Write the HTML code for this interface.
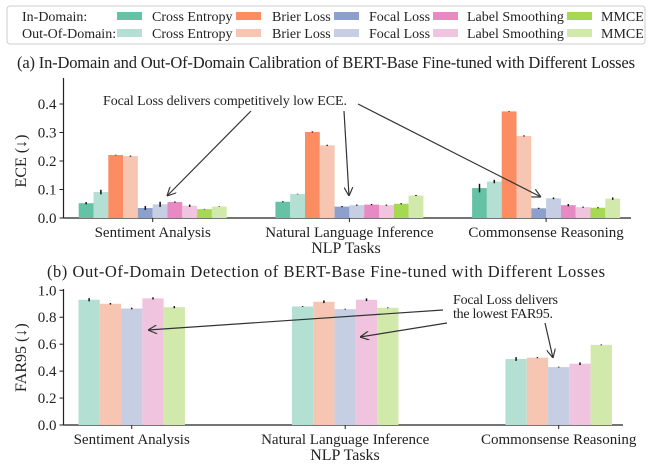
<!DOCTYPE html>
<html><head><meta charset="utf-8">
<style>
body{margin:0;background:#fff;}
svg, svg text{display:block;font-family:"Liberation Serif","DejaVu Serif",serif;}
</style></head>
<body>
<svg id="chart" width="652" height="468" viewBox="0 0 652 468" xmlns="http://www.w3.org/2000/svg" font-family="Liberation Serif, DejaVu Serif, serif">
<defs><marker id="ah" viewBox="0 0 10 10" refX="10" refY="5" markerWidth="9" markerHeight="9" orient="auto" markerUnits="userSpaceOnUse"><path d="M0,0 L10,5 L0,10" fill="none" stroke="#333" stroke-width="1.3"/></marker></defs>
<g>
<rect x="7" y="6" width="638" height="38" rx="3" fill="#fff" stroke="#ccc"/>
<text x="22" y="21" font-size="14" fill="#222">In-Domain:</text>
<text x="22" y="38" font-size="14" fill="#222">Out-Of-Domain:</text>
</g>
<text x="326" y="68" font-size="16.5" text-anchor="middle" fill="#222" textLength="618">(a) In-Domain and Out-Of-Domain Calibration of BERT-Base Fine-tuned with Different Losses</text>
<text x="326" y="277" font-size="16.5" text-anchor="middle" fill="#222" textLength="558">(b) Out-Of-Domain Detection of BERT-Base Fine-tuned with Different Losses</text>
<g id="pa"></g>
<g id="pb"></g>
<text x="103" y="105" font-size="14" fill="#222" textLength="244">Focal Loss delivers competitively low ECE.</text>
<line x1="251" y1="111" x2="167" y2="196" stroke="#333" stroke-width="1.2" marker-end="url(#ah)"/>
<line x1="344" y1="111" x2="349" y2="196" stroke="#333" stroke-width="1.2" marker-end="url(#ah)"/>
<line x1="358" y1="104" x2="541" y2="197" stroke="#333" stroke-width="1.2" marker-end="url(#ah)"/>
<text font-size="14" fill="#222"><tspan x="453" y="304" textLength="105">Focal Loss delivers</tspan><tspan x="453" y="318" textLength="100">the lowest FAR95.</tspan></text>
<line x1="443" y1="310" x2="148" y2="330" stroke="#333" stroke-width="1.2" marker-end="url(#ah)"/>
<line x1="447" y1="323" x2="360" y2="337" stroke="#333" stroke-width="1.2" marker-end="url(#ah)"/>
<line x1="545" y1="323" x2="553" y2="358" stroke="#333" stroke-width="1.2" marker-end="url(#ah)"/>
</svg>
<script>
const tasks=["Sentiment Analysis","Natural Language Inference","Commonsense Reasoning"];
const losses=["Cross Entropy","Brier Loss","Focal Loss","Label Smoothing","MMCE"];
const colorsIn=["#66c2a5","#fc8d62","#8da0cb","#e78ac3","#a6d854"];
const colorsOut=["#b3e0d2","#f7c6b2","#c6cee3","#f0c4de","#d2e9ac"];
const eceIn=[[0.052,0.221,0.035,0.056,0.031],[0.057,0.302,0.040,0.047,0.050],[0.105,0.374,0.034,0.045,0.036]];
const eceOut=[[0.091,0.217,0.048,0.043,0.040],[0.084,0.255,0.045,0.045,0.079],[0.128,0.288,0.069,0.038,0.068]];
const eceErrIn=[[0.004,0.001,0.007,0.002,0.001],[0.002,0.002,0.002,0.002,0.002],[0.015,0.001,0.002,0.004,0.002]];
const eceErrOut=[[0.008,0.002,0.009,0.004,0.001],[0.001,0.002,0.002,0.002,0.002],[0.006,0.002,0.003,0.002,0.004]];
const far=[[0.93,0.90,0.865,0.94,0.875],[0.88,0.915,0.86,0.93,0.87],[0.49,0.50,0.43,0.455,0.595]];
const farErr=[[0.012,0.006,0.006,0.008,0.008],[0.003,0.01,0.003,0.01,0.003],[0.014,0.004,0.003,0.01,0.003]];
const eceTicks=["0.0","0.1","0.2","0.3","0.4"];
const farTicks=["0.0","0.2","0.4","0.6","0.8","1.0"];
const NS="http://www.w3.org/2000/svg";
function mk(p,t,a){const e=document.createElementNS(NS,t);for(const k in a)e.setAttribute(k,a[k]);p.appendChild(e);return e;}
const svg=document.getElementById('chart');
const lx=[117,236,334,433,567], tx=[152,272,369,467,601];
losses.forEach((l,i)=>{
 [[colorsIn,16,'in'],[colorsOut,33,'out']].forEach(([c,y,s])=>{
  const r=mk(svg,'rect',{x:lx[i],y:y-4,width:25,height:8,fill:c[i]});
  
  
  const t=mk(svg,'text',{x:tx[i],y:y+5,'font-size':14,fill:'#222'});t.textContent=l;
  
  
 });
});
function axes(g,o){
 const y=v=>o.y0-(v-0)/(o.vmax)*(o.y0-o.ytop);
 mk(g,'line',{x1:o.x0,y1:o.y0,x2:o.x1,y2:o.y0,stroke:'#222','stroke-width':1.2});
 mk(g,'line',{x1:o.x0,y1:o.y0,x2:o.x0,y2:o.yAxisTop,stroke:'#222','stroke-width':1.2});
 o.ticks.forEach(tl=>{const v=parseFloat(tl);const yy=y(v);
  mk(g,'line',{x1:o.x0-4,y1:yy,x2:o.x0,y2:yy,stroke:'#222'});
  const t=mk(g,'text',{x:o.x0-7,y:yy+5,'font-size':15,'text-anchor':'end',fill:'#222'});t.textContent=tl;
  
  });
 tasks.forEach((tk,i)=>{const cx=o.c0+i*o.sp;
  mk(g,'line',{x1:cx,y1:o.y0,x2:cx,y2:o.y0+4,stroke:'#222'});
  const t=mk(g,'text',{x:cx,y:o.y0+19,'font-size':15,'text-anchor':'middle',fill:'#222'});t.textContent=tk;
  
  });
 const xl=mk(g,'text',{x:o.xlx,y:o.y0+35,'font-size':16,'text-anchor':'middle',fill:'#222'});xl.textContent='NLP Tasks';
 
 
 const yl=mk(g,'text',{x:0,y:0,'font-size':16,'text-anchor':'middle',fill:'#222',transform:`translate(${o.ylx},${(o.y0+o.ytop)/2}) rotate(-90)`});yl.textContent=o.ylab;
 
 
 return y;
}
function bar(g,x,w,yv,yb,c,err,y,name){
 const r=mk(g,'rect',{x:x,y:y(yv),width:w,height:yb-y(yv),fill:c});
 
 
 mk(g,'line',{x1:x+w/2,y1:y(yv+err),x2:x+w/2,y2:y(yv-err),stroke:'#111','stroke-width':1.5});
}
const ga=document.getElementById('pa');
const oa={x0:63.5,x1:631,y0:218,ytop:104,vmax:0.4,yAxisTop:78,ticks:eceTicks,c0:152.7,sp:196.7,ylab:'ECE (↓)',ylx:26,xlx:346};
const ya=axes(ga,oa);
const bwA=14.8;
tasks.forEach((tk,i)=>{const st=oa.c0+i*oa.sp-5*bwA;
 losses.forEach((l,j)=>{
  bar(ga,st+(2*j)*bwA,bwA,eceIn[i][j],oa.y0,colorsIn[j],eceErrIn[i][j],ya,'bar-in-'+i+'-'+j);
  bar(ga,st+(2*j+1)*bwA,bwA,eceOut[i][j],oa.y0,colorsOut[j],eceErrOut[i][j],ya,'bar-out-'+i+'-'+j);
 });});
const gb=document.getElementById('pb');
const ob={x0:63.5,x1:623,y0:425,ytop:290.3,vmax:1.0,yAxisTop:289,ticks:farTicks,c0:131.7,sp:213.5,ylab:'FAR95 (↓)',ylx:26,xlx:345};
const yb=axes(gb,ob);
const bwB=21.3;
tasks.forEach((tk,i)=>{const st=ob.c0+i*ob.sp-2.5*bwB;
 losses.forEach((l,j)=>{
  bar(gb,st+j*bwB,bwB,far[i][j],ob.y0,colorsOut[j],farErr[i][j],yb,'far-bar-'+i+'-'+j);
 });});
</script>
</body></html>
